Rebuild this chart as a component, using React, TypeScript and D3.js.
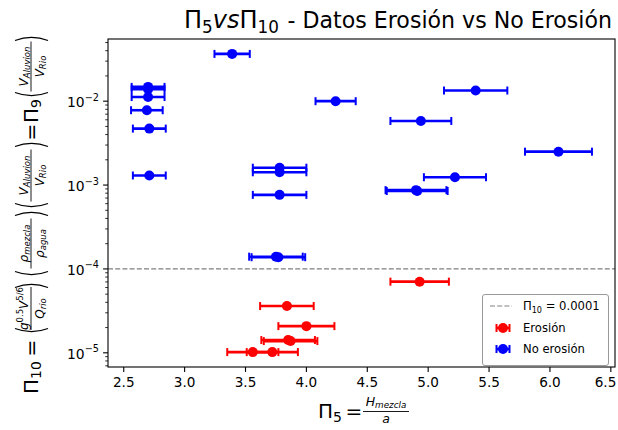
import React from "react";
import * as d3 from "d3";

// Erosión (red)
const erosionX = [4.93, 3.84, 4.0, 3.85, 3.87, 3.56, 3.72];
const erosionY = [7.05e-5, 3.61e-5, 2.08e-5, 1.42e-5, 1.38e-5, 1.02e-5, 1.02e-5];
const erosionErr = [0.24, 0.22, 0.23, 0.22, 0.22, 0.21, 0.21];

// No erosión (blue)
const noErosionX = [3.39, 2.7, 2.7, 2.7, 2.69, 2.71, 2.71, 3.78, 3.78, 3.78, 3.75, 3.77, 4.24, 5.39, 4.94, 6.07, 5.22, 4.9, 4.91];
const noErosionY = [3.66e-2, 1.48e-2, 1.39e-2, 1.12e-2, 7.8e-3, 4.71e-3, 1.3e-3, 1.61e-3, 1.42e-3, 7.64e-4, 1.4e-4, 1.38e-4, 1.0e-2, 1.34e-2, 5.81e-3, 2.5e-3, 1.24e-3, 8.7e-4, 8.5e-4];
const noErosionErr = [0.145, 0.135, 0.135, 0.135, 0.13, 0.135, 0.135, 0.22, 0.22, 0.22, 0.22, 0.22, 0.165, 0.26, 0.25, 0.275, 0.255, 0.25, 0.25];

const thresholdValue = 1e-4;
const xTicks = [2.5, 3.0, 3.5, 4.0, 4.5, 5.0, 5.5, 6.0, 6.5];
const yMajorExp = [-5, -4, -3, -2];
const legendLabels = ["Erosión", "No erosión"];

const W = 618;
const H = 430;
const M = { left: 108, right: 615, top: 39, bottom: 367 };
const FONT = "DejaVu Sans";
const RED = "#ff0000";
const BLUE = "#0000ff";

type P = { x: number; y: number; e: number };

function ErrPoint({ d, x, y, color }: { d: P; x: any; y: any; color: string }) {
  const cy = y(d.y);
  const x0 = x(d.x - d.e);
  const x1 = x(d.x + d.e);
  return (
    <g>
      <line x1={x0} x2={x1} y1={cy} y2={cy} stroke={color} strokeWidth={2.6} />
      <line x1={x0} x2={x0} y1={cy - 4} y2={cy + 4} stroke={color} strokeWidth={2} />
      <line x1={x1} x2={x1} y1={cy - 4} y2={cy + 4} stroke={color} strokeWidth={2} />
      <circle cx={x(d.x)} cy={cy} r={5} fill={color} />
    </g>
  );
}

function Frac({ c, w, num, den, fs = 12 }: { c: number; w: number; num: any; den: any; fs?: number }) {
  return (
    <g>
      <line x1={c - w / 2} x2={c + w / 2} y1={0} y2={0} stroke="#000" strokeWidth={0.9} />
      <text x={c} y={-3.5} textAnchor="middle" fontSize={fs}>{num}</text>
      <text x={c} y={fs + 0.5} textAnchor="middle" fontSize={fs}>{den}</text>
    </g>
  );
}

function OpenP({ a }: { a: number }) {
  return <path d={`M ${a + 3.5},-16 Q ${a - 2.8},0.5 ${a + 3.5},17`} fill="none" stroke="#000" strokeWidth={1.3} />;
}
function CloseP({ a }: { a: number }) {
  return <path d={`M ${a - 3.5},-16 Q ${a + 2.8},0.5 ${a - 3.5},17`} fill="none" stroke="#000" strokeWidth={1.3} />;
}

const VAR = (s: string) => <tspan fontStyle="italic">{s}</tspan>;

export default function App() {
  const ero: P[] = erosionX.map((v, i) => ({ x: v, y: erosionY[i], e: erosionErr[i] }));
  const noEro: P[] = noErosionX.map((v, i) => ({ x: v, y: noErosionY[i], e: noErosionErr[i] }));
  const all = [...ero, ...noEro];

  const xmin = d3.min(all, (d) => d.x - d.e)!;
  const xmax = d3.max(all, (d) => d.x + d.e)!;
  const xpad = (xmax - xmin) * 0.05;
  const x = d3.scaleLinear().domain([xmin - xpad, xmax + xpad]).range([M.left, M.right]);

  const lmin = Math.log10(d3.min(all, (d) => d.y)!);
  const lmax = Math.log10(d3.max(all, (d) => d.y)!);
  const lpad = (lmax - lmin) * 0.05;
  const y = d3.scaleLog().domain([10 ** (lmin - lpad), 10 ** (lmax + lpad)]).range([M.bottom, M.top]);

  const [ylo, yhi] = y.domain();
  const minor: number[] = [];
  for (let k = -7; k <= 0; k++) {
    for (let m = 2; m <= 9; m++) {
      const v = m * 10 ** k;
      if (v >= ylo && v <= yhi) minor.push(v);
    }
  }

  const thrY = y(thresholdValue);

  const sub = (s: string, italic = true) => (
    <tspan fontSize={8.5} dy={2.5} fontStyle={italic ? "italic" : "normal"}>{s}</tspan>
  );

  const vNum = (
    <>
      {VAR("V")}
      {sub("Aluvion")}
    </>
  );
  const vDen = (
    <>
      {VAR("V")}
      {sub("Rio")}
    </>
  );

  const legX = 482.5;
  const legY = 294.5;
  const legRows = [306, 328, 349];

  return (
    <svg width={W} height={H} style={{ position: "absolute", left: 0, top: 0 }} fontFamily={FONT}>
      <rect width={W} height={H} fill="#fff" />

      {/* threshold line */}
      <line x1={M.left} x2={M.right} y1={thrY} y2={thrY} stroke="#808080" strokeWidth={1.2} strokeDasharray="5,2.2" />

      {ero.map((d, i) => (
        <ErrPoint key={"e" + i} d={d} x={x} y={y} color={RED} />
      ))}
      {noEro.map((d, i) => (
        <ErrPoint key={"n" + i} d={d} x={x} y={y} color={BLUE} />
      ))}

      {/* frame */}
      <rect x={M.left} y={M.top} width={M.right - M.left} height={M.bottom - M.top} fill="none" stroke="#000" strokeWidth={1.1} />

      {/* x ticks */}
      {xTicks.map((t) => (
        <g key={"xt" + t}>
          <line x1={x(t)} x2={x(t)} y1={M.bottom} y2={M.bottom + 4.9} stroke="#000" strokeWidth={1.1} />
          <text x={Math.min(x(t), 605.5)} y={M.bottom + 20} textAnchor="middle" fontSize={13.6}>
            {d3.format(".1f")(t)}
          </text>
        </g>
      ))}

      {/* y ticks */}
      {minor.map((v, i) => (
        <line key={"mn" + i} x1={M.left - 2.8} x2={M.left} y1={y(v)} y2={y(v)} stroke="#000" strokeWidth={0.8} />
      ))}
      {yMajorExp.map((e) => (
        <g key={"yt" + e}>
          <line x1={M.left - 4.9} x2={M.left} y1={y(10 ** e)} y2={y(10 ** e)} stroke="#000" strokeWidth={1.1} />
          <text x={M.left - 9} y={y(10 ** e) + 6} textAnchor="end" fontSize={13.9}>
            10<tspan fontSize={9.7} dy={-6.5}>{"\u2212" + Math.abs(e)}</tspan>
          </text>
        </g>
      ))}

      {/* title */}
      <text x={184} y={28} fontSize={24}>
        Π<tspan fontSize={16.8} dy={4.5}>5</tspan>
        <tspan dy={-4.5} fontStyle="italic">vs</tspan>Π<tspan fontSize={16.8} dy={4.5}>10</tspan>
      </text>
      <text x={612} y={28} fontSize={22.1} textAnchor="end">
        {"- Datos Erosión vs No Erosión"}
      </text>

      {/* x label */}
      <g>
        <text x={318} y={418} fontSize={20}>
          Π<tspan fontSize={14} dy={3.5}>5</tspan>
        </text>
        <text x={354} y={418} fontSize={20} textAnchor="middle">=</text>
        <line x1={363} x2={409} y1={411.5} y2={411.5} stroke="#000" strokeWidth={0.9} />
        <text x={386} y={406} textAnchor="middle" fontSize={12.5}>
          {VAR("H")}
          <tspan fontSize={8.8} dy={2} fontStyle="italic">mezcla</tspan>
        </text>
        <text x={386} y={423} textAnchor="middle" fontSize={12.5} fontStyle="italic">a</text>
      </g>

      {/* y label (rotated frame: origin at screen (31,395)) */}
      <g transform={`translate(31,395) rotate(-90)`}>
        <text x={1} y={6.5} fontSize={20}>
          Π<tspan fontSize={14} dy={3.5}>10</tspan>
        </text>
        <text x={47} y={6.5} fontSize={20} textAnchor="middle">=</text>
        <OpenP a={63} />
        <Frac
          c={86.5}
          w={43}
          num={
            <>
              {VAR("g")}
              <tspan fontSize={8.5} dy={-5}>0.5</tspan>
              <tspan fontStyle="italic" dy={5}>V</tspan>
              <tspan fontSize={8.5} dy={-5}>5/6</tspan>
            </>
          }
          den={
            <>
              {VAR("Q")}
              {sub("rio")}
            </>
          }
        />
        <CloseP a={111} />
        <OpenP a={120} />
        <Frac
          c={151.5}
          w={50}
          num={
            <>
              {VAR("ρ")}
              {sub("mezcla")}
            </>
          }
          den={
            <>
              {VAR("ρ")}
              {sub("agua")}
            </>
          }
        />
        <CloseP a={183} />
        <OpenP a={188} />
        <Frac c={219.5} w={52} num={vNum} den={vDen} />
        <CloseP a={252} />
        <text x={263} y={6.5} fontSize={20} textAnchor="middle">=</text>
        <text x={272} y={6.5} fontSize={20}>
          Π<tspan fontSize={14} dy={3.5}>9</tspan>
        </text>
        <OpenP a={299} />
        <Frac c={328.5} w={50} num={vNum} den={vDen} />
        <CloseP a={358} />
      </g>

      {/* legend */}
      <g>
        <rect x={legX} y={legY} width={126} height={71} rx={2.5} fill="#fff" fillOpacity={0.85} stroke="#999" strokeWidth={1} />
        <line x1={490} x2={512} y1={legRows[0]} y2={legRows[0]} stroke="#808080" strokeWidth={1.2} strokeDasharray="5,2.2" />
        <text x={523} y={legRows[0] + 4} fontSize={11.6}>
          Π<tspan fontSize={8.1} dy={2.5}>10</tspan>
          <tspan dy={-2.5}> = 0.0001</tspan>
        </text>
        {[RED, BLUE].map((c, i) => {
          const cy = legRows[i + 1];
          const cx = 503;
          return (
            <g key={"lg" + i}>
              <line x1={cx - 6.5} x2={cx + 6.5} y1={cy} y2={cy} stroke={c} strokeWidth={2.6} />
              <line x1={cx - 6.5} x2={cx - 6.5} y1={cy - 4} y2={cy + 4} stroke={c} strokeWidth={2} />
              <line x1={cx + 6.5} x2={cx + 6.5} y1={cy - 4} y2={cy + 4} stroke={c} strokeWidth={2} />
              <circle cx={cx} cy={cy} r={5} fill={c} />
              <text x={523} y={cy + 4} fontSize={11.6}>
                {legendLabels[i]}
              </text>
            </g>
          );
        })}
      </g>
    </svg>
  );
}
